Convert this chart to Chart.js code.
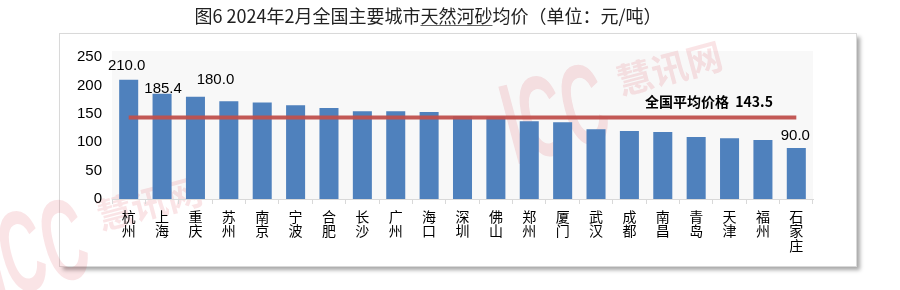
<!DOCTYPE html>
<html>
<head>
<meta charset="utf-8">
<script src="https://cdn.jsdelivr.net/npm/chart.js@4/dist/chart.umd.min.js"></script>
<style>
  html, body { margin: 0; padding: 0; background: #fff; }
  #wrap { width: 900px; height: 290px; }
</style>
</head>
<body>
<div id="wrap"><canvas id="graph" width="900" height="290"></canvas></div>
<script>
const titleText = "图6 2024年2月全国主要城市天然河砂均价（单位：元/吨）";
const underlined = "天然河砂";

const cities = ["杭州", "上海", "重庆", "苏州", "南京", "宁波", "合肥", "长沙", "广州", "海口",
  "深圳", "佛山", "郑州", "厦门", "武汉", "成都", "南昌", "青岛", "天津", "福州", "石家庄"];
const prices = [210.0, 185.4, 180.0, 172, 170, 165, 160, 154.5, 154.5, 153,
  146, 145, 137, 135, 123, 119.5, 118, 109, 107, 104, 90.0];
const nationalAvg = 143.5;
const avgLabel = "全国平均价格  " + nationalAvg.toFixed(1);
const yTicks = [0, 50, 100, 150, 200, 250];

// which bars carry a value label, with a small nudge to match the original
const valueLabels = [
  { i: 0, dx: -2, dy: -14 },
  { i: 1, dx: 1, dy: -5 },
  { i: 2, dx: 20, dy: -17 },
  { i: 20, dx: -1, dy: -12 }
];

const cjk = '"Noto Sans CJK SC", "Noto Sans", sans-serif';
const latin = '"Liberation Sans", Arial, sans-serif';

function watermark(ctx, x, y) {
  ctx.save();
  ctx.translate(x, y);
  ctx.rotate(-0.26);
  ctx.save();
  ctx.scale(0.75, 1.45);
  ctx.font = "bold 80px " + latin;
  ctx.fillText("ICC", 0, 0);
  ctx.restore();
  ctx.font = "bold 36px " + cjk;
  ctx.fillText("慧讯网", 120, -40);
  ctx.restore();
}

const framePlugin = {
  id: "frame",
  beforeDraw(chart) {
    const ctx = chart.ctx;
    const a = chart.chartArea;
    ctx.save();
    ctx.fillStyle = "#fff";
    ctx.fillRect(0, 0, chart.width, chart.height);
    // outer box with shadow
    ctx.shadowColor = "rgba(0,0,0,0.35)";
    ctx.shadowOffsetX = 3;
    ctx.shadowOffsetY = 3;
    ctx.shadowBlur = 4;
    ctx.fillStyle = "#fff";
    ctx.fillRect(59.5, 33.5, 797, 233);
    ctx.shadowColor = "transparent";
    ctx.strokeStyle = "#d9d9d9";
    ctx.lineWidth = 1;
    ctx.strokeRect(59.5, 33.5, 797, 233);
    // plot background
    ctx.fillStyle = "#f8f8f8";
    ctx.fillRect(a.left, a.top - 6, a.right - a.left, a.bottom - a.top + 6);

    // watermarks
    ctx.globalAlpha = 0.13;
    ctx.fillStyle = "#d8303a";
    watermark(ctx, 515, 165);
    watermark(ctx, -5, 300);
    ctx.restore();

    // title
    ctx.save();
    ctx.font = "18px " + cjk;
    ctx.fillStyle = "#222";
    ctx.textBaseline = "middle";
    const w = ctx.measureText(titleText).width;
    const x0 = 428 - w / 2;
    ctx.fillText(titleText, x0, 16);
    const k = titleText.indexOf(underlined);
    const ux = x0 + ctx.measureText(titleText.slice(0, k)).width;
    const uw = ctx.measureText(underlined).width;
    ctx.fillStyle = "#666";
    ctx.fillRect(ux, 25, uw, 1);
    ctx.restore();
  },
  afterDatasetsDraw(chart) {
    const ctx = chart.ctx;
    const xs = chart.scales.x;
    const ys = chart.scales.y;
    ctx.save();
    ctx.textAlign = "center";
    ctx.textBaseline = "middle";
    ctx.fillStyle = "#000";
    ctx.font = "15px " + latin;
    valueLabels.forEach(l => {
      const x = xs.getPixelForValue(l.i) + l.dx;
      const y = ys.getPixelForValue(prices[l.i]) + l.dy;
      ctx.fillText(prices[l.i].toFixed(1), x, y);
    });
    ctx.font = "bold 14px " + cjk;
    ctx.textAlign = "right";
    ctx.fillText(avgLabel, xs.getPixelForValue(19) + 10, ys.getPixelForValue(nationalAvg) - 16);
    ctx.restore();
  }
};

window.onload = function () {
  const ctx = document.getElementById("graph").getContext("2d");
  new Chart(ctx, {
    data: {
      labels: cities.map(c => c.split("")),
      datasets: [
        {
          type: "line",
          data: cities.map(() => nationalAvg),
          borderColor: "rgba(192,80,77,0.95)",
          borderWidth: 4,
          pointRadius: 0,
          order: 0
        },
        {
          type: "bar",
          data: prices,
          backgroundColor: "#4f81bd",
          categoryPercentage: 1,
          barPercentage: 0.57,
          order: 1
        }
      ]
    },
    options: {
      responsive: false,
      animation: false,
      layout: { padding: { left: 60, right: 87, top: 57, bottom: 21 } },
      plugins: {
        legend: { display: false },
        tooltip: { enabled: false },
        title: { display: false }
      },
      scales: {
        x: {
          afterFit: s => { s.height = 70; },
          grid: {
            display: true,
            offset: true,
            drawOnChartArea: false,
            drawTicks: true,
            tickLength: 5,
            color: "#d9d9d9"
          },
          border: { display: true, color: "#d9d9d9" },
          ticks: {
            color: "#000",
            maxRotation: 0,
            autoSkip: false,
            padding: 5,
            font: { family: cjk, size: 14, lineHeight: 1.05 }
          }
        },
        y: {
          min: 0,
          max: 250,
          afterFit: s => { s.width = 52; },
          afterBuildTicks: s => { s.ticks = yTicks.map(v => ({ value: v })); },
          grid: { display: false, drawTicks: false },
          border: { display: false },
          ticks: {
            color: "#000",
            padding: 10,
            font: { family: latin, size: 15 }
          }
        }
      }
    },
    plugins: [framePlugin]
  });
};
</script>
</body>
</html>
